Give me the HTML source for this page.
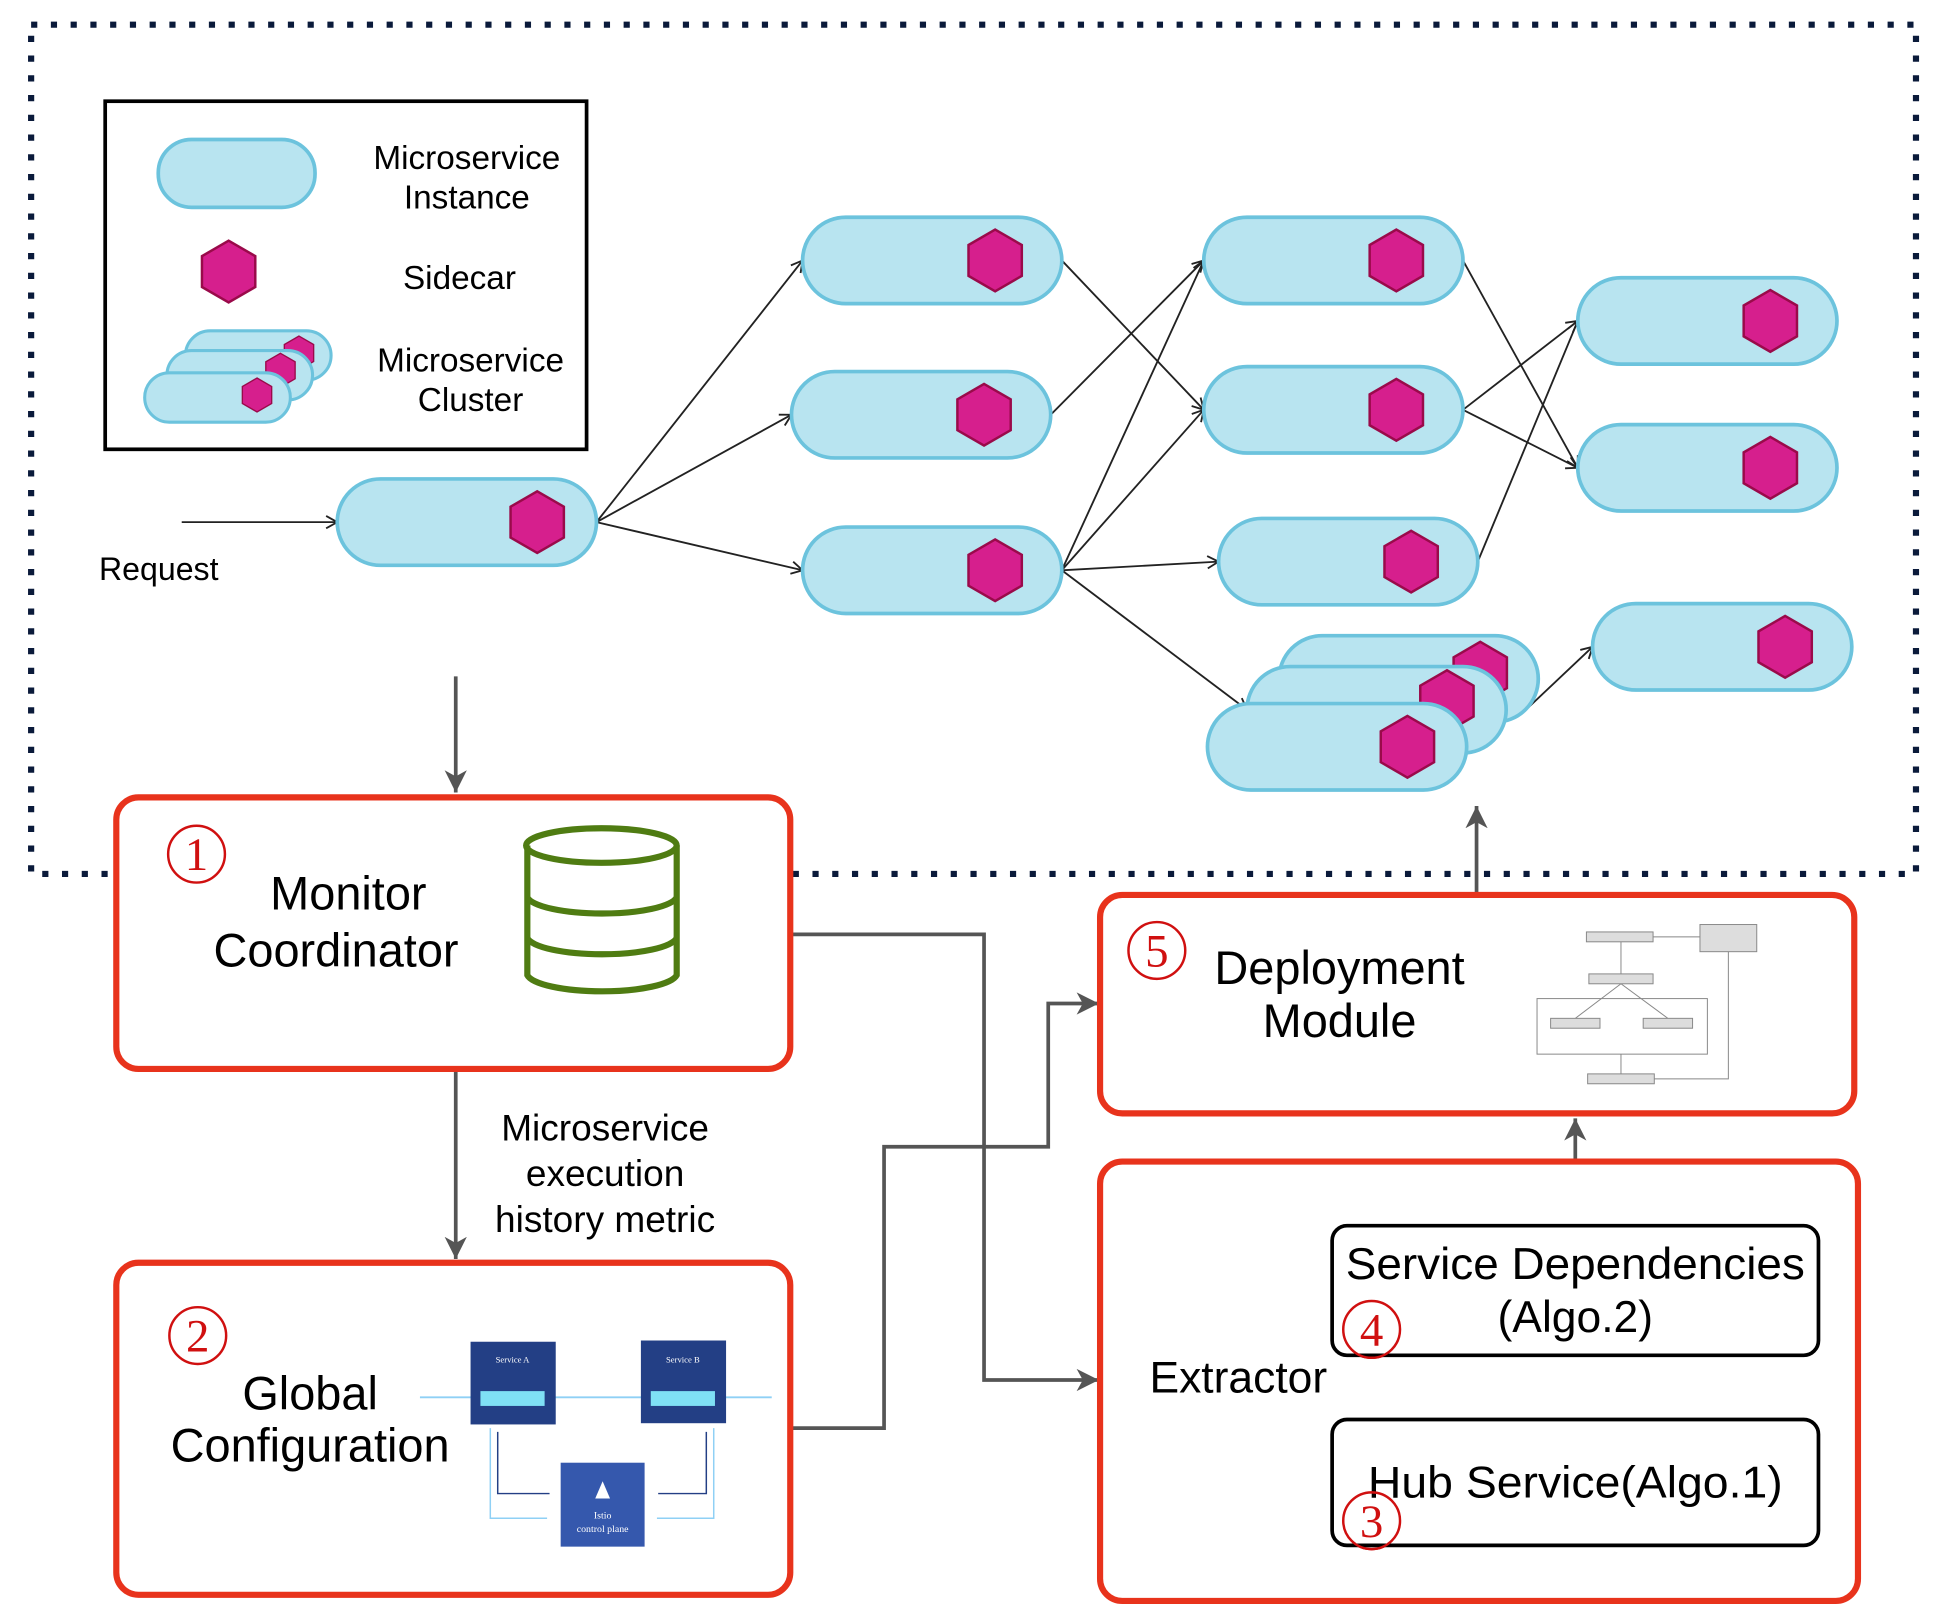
<!DOCTYPE html>
<html><head><meta charset="utf-8"><style>html,body{margin:0;padding:0;background:#fff}svg{display:block}</style></head>
<body>
<svg width="1936" height="1617" viewBox="0 0 1568 1310" xmlns="http://www.w3.org/2000/svg" font-family="Liberation Sans, DejaVu Sans, sans-serif">
<defs>
<marker id="oa" markerWidth="12" markerHeight="12" refX="10" refY="6" orient="auto" markerUnits="userSpaceOnUse"><path d="M1,1 L10,6 L1,11" fill="none" stroke="#222" stroke-width="1.5"/></marker>
<marker id="ga" markerWidth="20" markerHeight="22" refX="18" refY="11" orient="auto" markerUnits="userSpaceOnUse"><path d="M0,2 L18,11 L0,20 L5,11 Z" fill="#555"/></marker>
<g id="hex"><polygon points="0,-25 21.6,-12.5 21.6,12.5 0,25 -21.6,12.5 -21.6,-12.5" fill="#d61f8d" stroke="#9a0a4a" stroke-width="2"/></g>
<g id="pill"><rect x="0" y="0" width="210" height="70" rx="35" fill="#b8e4f0" stroke="#6cc3dd" stroke-width="3"/></g>
</defs>
<rect width="1568" height="1310" fill="#fff"/>
<rect x="25" y="20" width="1527" height="688" fill="none" stroke="#0a1a3a" stroke-width="5" stroke-dasharray="5 11"/>

<rect x="85" y="82" width="390" height="282" fill="#fff" stroke="#000" stroke-width="3"/>
<rect x="128" y="113" width="127" height="55" rx="27" fill="#b8e4f0" stroke="#6cc3dd" stroke-width="3"/>
<use href="#hex" transform="translate(185,220)"/>
<rect x="150" y="268" width="118" height="40" rx="20" fill="#b8e4f0" stroke="#6cc3dd" stroke-width="2.5"/>
<use href="#hex" transform="translate(242,286) scale(0.55)"/>
<rect x="135" y="284" width="118" height="40" rx="20" fill="#b8e4f0" stroke="#6cc3dd" stroke-width="2.5"/>
<use href="#hex" transform="translate(227,300) scale(0.55)"/>
<rect x="117" y="302" width="118" height="40" rx="20" fill="#b8e4f0" stroke="#6cc3dd" stroke-width="2.5"/>
<use href="#hex" transform="translate(208,320) scale(0.55)"/>
<g font-size="27" text-anchor="middle" fill="#000">
<text x="378" y="137">Microservice</text><text x="378" y="169">Instance</text>
<text x="372" y="234">Sidecar</text>
<text x="381" y="301">Microservice</text><text x="381" y="333">Cluster</text>
</g>

<g stroke="#222" stroke-width="1.5" fill="none" marker-end="url(#oa)">
<line x1="147" y1="423" x2="273" y2="423"/>
<line x1="483" y1="423" x2="650" y2="211"/>
<line x1="483" y1="423" x2="641" y2="336"/>
<line x1="483" y1="423" x2="650" y2="462"/>
<line x1="860" y1="211" x2="975" y2="332"/>
<line x1="851" y1="336" x2="975" y2="211"/>
<line x1="860" y1="462" x2="975" y2="211"/>
<line x1="860" y1="462" x2="975" y2="332"/>
<line x1="860" y1="462" x2="987" y2="455"/>
<line x1="860" y1="462" x2="1010" y2="575"/>
<line x1="1185" y1="332" x2="1278" y2="260"/>
<line x1="1185" y1="332" x2="1278" y2="379"/>
<line x1="1185" y1="211" x2="1278" y2="379"/>
<line x1="1197" y1="455" x2="1278" y2="260"/>
<line x1="1236" y1="575" x2="1290" y2="524"/>
</g>
<text x="80" y="470" font-size="26">Request</text>

<use href="#pill" x="273" y="388"/><use href="#hex" transform="translate(435,423)"/>
<use href="#pill" x="650" y="176"/><use href="#hex" transform="translate(806,211)"/>
<use href="#pill" x="641" y="301"/><use href="#hex" transform="translate(797,336)"/>
<use href="#pill" x="650" y="427"/><use href="#hex" transform="translate(806,462)"/>
<use href="#pill" x="975" y="176"/><use href="#hex" transform="translate(1131,211)"/>
<use href="#pill" x="975" y="297"/><use href="#hex" transform="translate(1131,332)"/>
<use href="#pill" x="987" y="420"/><use href="#hex" transform="translate(1143,455)"/>
<use href="#pill" x="1036" y="515"/><use href="#hex" transform="translate(1199,545)"/>
<use href="#pill" x="1010" y="540"/><use href="#hex" transform="translate(1172,568)"/>
<use href="#pill" x="978" y="570"/><use href="#hex" transform="translate(1140,605)"/>
<use href="#pill" x="1278" y="225"/><use href="#hex" transform="translate(1434,260)"/>
<use href="#pill" x="1278" y="344"/><use href="#hex" transform="translate(1434,379)"/>
<use href="#pill" x="1290" y="489"/><use href="#hex" transform="translate(1446,524)"/>

<g stroke="#555" stroke-width="3" fill="none" marker-end="url(#ga)">
<line x1="369" y1="548" x2="369" y2="642"/>
<line x1="369" y1="868" x2="369" y2="1020"/>
<polyline points="640,757 797,757 797,1118 890,1118"/>
<polyline points="640,1157 716,1157 716,929 849,929 849,813 890,813"/>
<line x1="1276" y1="993" x2="1276" y2="906"/>
<line x1="1276" y1="1150" x2="1276" y2="1096"/>
<line x1="1196" y1="725" x2="1196" y2="653"/>
</g>

<g fill="#fff" stroke="#e8331c" stroke-width="5">
<rect x="94" y="646" width="546" height="220" rx="18"/>
<rect x="94" y="1023" width="546" height="269" rx="18"/>
<rect x="891" y="725" width="611" height="177" rx="18"/>
<rect x="891" y="941" width="614" height="356" rx="18"/>
</g>

<g fill="none" stroke="#d01010" stroke-width="2">
<circle cx="159" cy="692" r="23"/>
<circle cx="160" cy="1082" r="23"/>
<circle cx="937" cy="770" r="23"/>
<circle cx="1111" cy="1077" r="23"/>
<circle cx="1111" cy="1232" r="23"/>
</g>
<g font-size="38" fill="#d01010" text-anchor="middle" font-family="Liberation Serif, serif">
<text x="159" y="705">1</text>
<text x="160" y="1095">2</text>
<text x="937" y="783">5</text>
<text x="1111" y="1090">4</text>
<text x="1111" y="1245">3</text>
</g>

<g font-size="38" text-anchor="middle" fill="#000">
<text x="282" y="737">Monitor</text><text x="272" y="783">Coordinator</text>
</g>
<g fill="none" stroke="#4f7c12" stroke-width="5">
<path d="M427,685 L427,790 A61,15 0 0 0 548,790 L548,685"/>
<ellipse cx="487" cy="685" rx="61" ry="14"/>
<path d="M427,727 A61,15 0 0 0 548,727"/>
<path d="M427,760 A61,15 0 0 0 548,760"/>
</g>

<g font-size="30" text-anchor="middle" fill="#000">
<text x="490" y="924">Microservice</text><text x="490" y="961">execution</text><text x="490" y="998">history metric</text>
</g>

<g font-size="38" text-anchor="middle" fill="#000">
<text x="251" y="1142">Global</text><text x="251" y="1184">Configuration</text>
</g>
<g>
<line x1="340" y1="1132" x2="625" y2="1132" stroke="#8fd0f5" stroke-width="1.5"/>
<rect x="381" y="1087" width="69" height="67" fill="#233f85"/>
<rect x="519" y="1086" width="69" height="67" fill="#233f85"/>
<rect x="389" y="1127" width="52" height="12" fill="#7fe0f5"/>
<rect x="527" y="1127" width="52" height="12" fill="#7fe0f5"/>
<text x="415" y="1104" font-size="7" fill="#fff" text-anchor="middle" font-family="Liberation Serif, serif">Service A</text>
<text x="553" y="1104" font-size="7" fill="#fff" text-anchor="middle" font-family="Liberation Serif, serif">Service B</text>
<rect x="454" y="1185" width="68" height="68" fill="#3558ad"/>
<text x="488" y="1230" font-size="8" fill="#fff" text-anchor="middle" font-family="Liberation Serif, serif">Istio</text>
<text x="488" y="1241" font-size="8" fill="#fff" text-anchor="middle" font-family="Liberation Serif, serif">control plane</text>
<polygon points="488,1200 482,1214 494,1214" fill="#fff"/>
<polyline points="397,1157 397,1230 443,1230" fill="none" stroke="#8fd0f5" stroke-width="1.2"/>
<polyline points="403,1160 403,1210 445,1210" fill="none" stroke="#233f85" stroke-width="1.2"/>
<polyline points="578,1157 578,1230 532,1230" fill="none" stroke="#8fd0f5" stroke-width="1.2"/>
<polyline points="572,1160 572,1210 533,1210" fill="none" stroke="#233f85" stroke-width="1.2"/>
</g>

<g font-size="38" text-anchor="middle" fill="#000">
<text x="1085" y="797">Deployment</text><text x="1085" y="840">Module</text>
</g>
<g stroke="#888" stroke-width="0.8" fill="#ddd">
<rect x="1285" y="755" width="54" height="8"/>
<rect x="1377" y="749" width="46" height="22"/>
<rect x="1287" y="789" width="52" height="8"/>
<rect x="1245" y="809" width="138" height="45" fill="none"/>
<rect x="1256" y="825" width="40" height="8"/>
<rect x="1331" y="825" width="40" height="8"/>
<rect x="1286" y="870" width="54" height="8"/>
<polyline points="1340,874 1400,874 1400,771" fill="none"/>
<line x1="1377" y1="759" x2="1339" y2="759"/>
<line x1="1313" y1="763" x2="1313" y2="789"/>
<line x1="1313" y1="797" x2="1276" y2="825"/>
<line x1="1313" y1="797" x2="1351" y2="825"/>
<line x1="1313" y1="854" x2="1313" y2="870"/>
</g>

<text x="1003" y="1128" font-size="36" text-anchor="middle" fill="#000">Extractor</text>
<rect x="1079" y="993" width="394" height="105" rx="12" fill="#fff" stroke="#000" stroke-width="3"/>
<rect x="1079" y="1150" width="394" height="102" rx="12" fill="#fff" stroke="#000" stroke-width="3"/>
<g font-size="36" text-anchor="middle" fill="#000">
<text x="1276" y="1036" textLength="372" lengthAdjust="spacingAndGlyphs">Service Dependencies</text>
<text x="1276" y="1079">(Algo.2)</text>
<text x="1276" y="1213" textLength="336" lengthAdjust="spacingAndGlyphs">Hub Service(Algo.1)</text>
</g>
<g fill="none" stroke="#d01010" stroke-width="2">
<circle cx="1111" cy="1077" r="23"/>
<circle cx="1111" cy="1232" r="23"/>
</g>
<g font-size="38" fill="#d01010" text-anchor="middle" font-family="Liberation Serif, serif">
<text x="1111" y="1090">4</text>
<text x="1111" y="1245">3</text>
</g>
</svg>
</body></html>
